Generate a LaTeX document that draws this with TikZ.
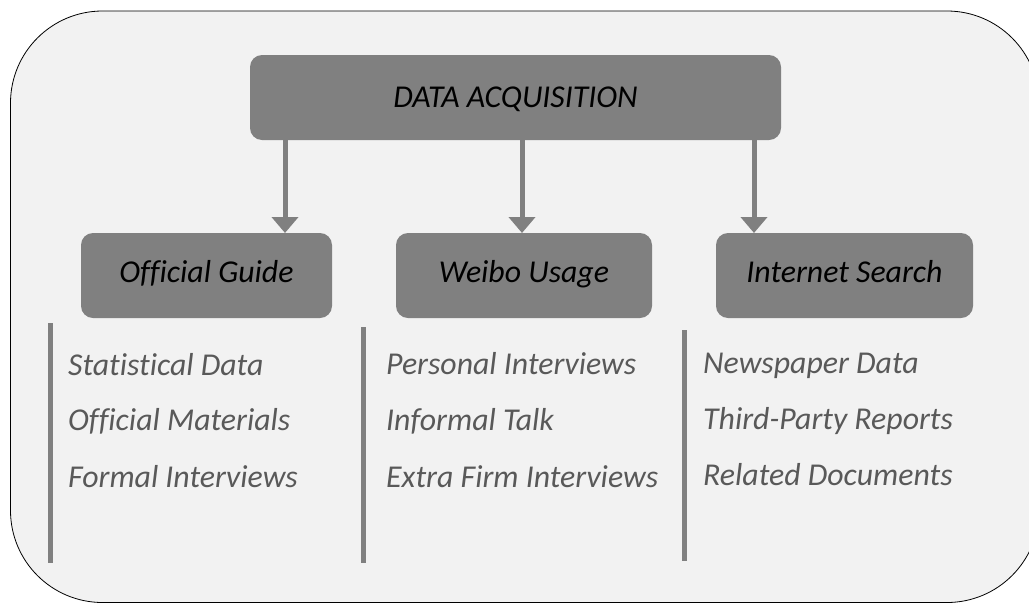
\documentclass[tikz,border=0pt]{standalone}
\usepackage{xcolor}
\usepackage{fontspec}
\setmainfont[Ligatures=NoCommon]{Carlito}
\usepackage{tikz}
\usetikzlibrary{arrows.meta}
\definecolor{boxgray}{HTML}{808080}
\definecolor{panel}{HTML}{F2F2F2}
\definecolor{itemgray}{HTML}{595959}
\tikzset{>=stealth}
\tikzset{
  headbox/.style={fill=boxgray, rounded corners=12pt, inner sep=0pt, minimum height=85pt,
    font=\itshape\fontsize{31.8}{36}\selectfont, text height=20pt, text depth=6pt},
  flow/.style={-{Triangle[length=16pt,width=26pt]}, boxgray, line width=5pt},
  sidebar/.style={boxgray, line width=5pt},
  item/.style={anchor=base west, inner sep=0pt, text=itemgray, font=\itshape\fontsize{31.8}{36}\selectfont},
}

\begin{document}
\begin{tikzpicture}[x=1pt,y=-1pt]
      \useasboundingbox (0,0) rectangle (1029,603);
      \clip (0,0) rectangle (1029,603);
      \draw[fill=panel, line width=0.8pt, rounded corners=92pt] (10.5,11) rectangle (1039,602.5);
      % top box and the three sources
      \node[headbox, minimum width=531pt, text depth=0pt] (acq) at (515.5,97.5) {DATA ACQUISITION};
      \node[headbox, minimum width=251pt] (guide) at (206.5,275.5) {Official Guide};
      \node[headbox, minimum width=256pt] (weibo) at (524,275.5) {Weibo Usage};
      \node[headbox, minimum width=257pt] (search) at (844.5,275.5) {Internet Search};
      \coordinate (inGuide) at (285,233);
      \coordinate (inWeibo) at (522,233);
      \coordinate (inSearch) at (754,233);
      \draw[flow] (inGuide |- acq.south) -- (inGuide);
      \draw[flow] (inWeibo |- acq.south) -- (inWeibo);
      \draw[flow] (inSearch |- acq.south) -- (inSearch);
      % side bars
      \draw[sidebar] (50,323) -- (50,563);
      \draw[sidebar] (363,327) -- (363,563);
      \draw[sidebar] (684,330) -- (684,561);
      % items
      \node[item] (stat) at (68,375) {Statistical Data};
      \node[item] (offmat) at (68,430) {Official Materials};
      \node[item] (formal) at (68,487) {Formal Interviews};
      \node[item] (personal) at (386,374) {Personal Interviews};
      \node[item] (informal) at (386,430) {Informal Talk};
      \node[item] (extra) at (386,487) {Extra Firm Interviews};
      \node[item] (news) at (703,373) {Newspaper Data};
      \node[item] (third) at (703,429) {Third-Party Reports};
      \node[item] (related) at (703,485) {Related Documents};
\end{tikzpicture}
\end{document}
